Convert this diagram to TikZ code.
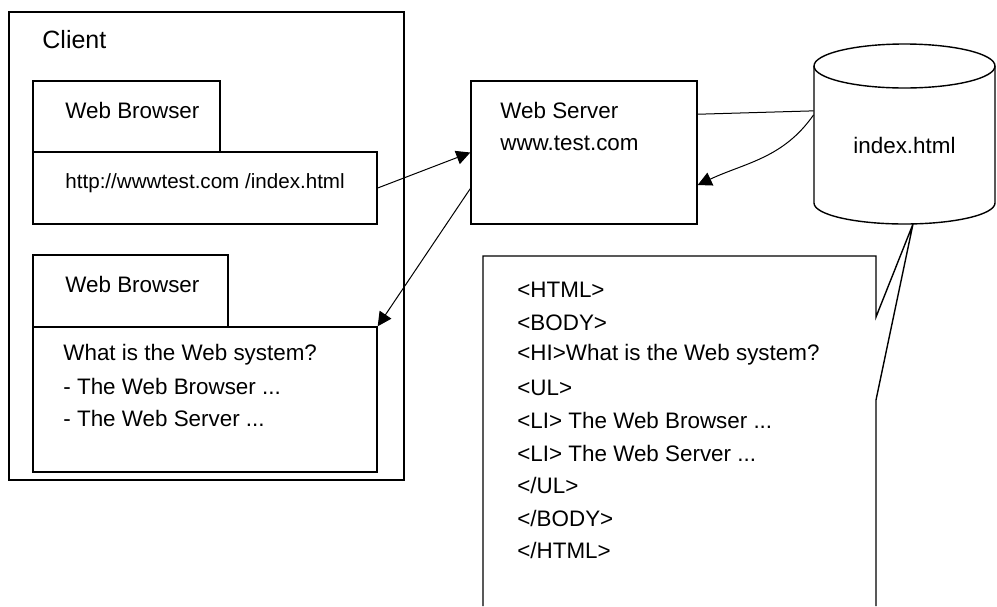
\documentclass[tikz,border=0pt]{standalone}
\usepackage{fontspec}
\setmainfont{Liberation Sans}
\usetikzlibrary{arrows.meta, calc}
\newcommand\pkte{...}

\begin{document}
\begin{tikzpicture}[x=0.5pt, y=-0.5pt,
		>={Triangle[length=7pt,width=7pt]},   %Pfeilspitzen
		box/.style={draw, line width=0.7pt, inner sep=0pt},
		txt/.style={anchor=west, inner sep=0pt},
		link/.style={line width=0.5pt},
		font=\fontsize{11.2}{13}\selectfont]
		\useasboundingbox (0,0) rectangle (997,606);
		%Client mit zwei Browsern
		\node[box, minimum width=197.5pt, minimum height=234pt] (client) at (206.5,246) {};
		\node[txt, font=\fontsize{12.5}{15}\selectfont] (clientlabel) at (42,40) {Client};
		\node[box, minimum width=93.5pt, minimum height=35.5pt] (tabone) at (126.5,116.5) {};
		\node[box, minimum width=172pt, minimum height=36pt] (bodyone) at (205,188) {};
		\node[txt] (browserone) at (65,110) {Web Browser};
		\node[txt, font=\fontsize{10.3}{12}\selectfont] (url) at (65,183) {http://wwwtest.com /index.html};
		\node[box, minimum width=97.5pt, minimum height=36pt] (tabtwo) at (130.5,291) {};
		\node[box, minimum width=172pt, minimum height=72.5pt] (bodytwo) at (205,399.5) {};
		\node[txt] (browsertwo) at (65,284) {Web Browser};
		\foreach \t [count=\i] in {What is the Web system?, - The Web Browser \pkte, - The Web Server \pkte}
			\node[txt] (page\i) at (63,355+31.5*\i-31.5) {\t};
		%Server
		\node[box, minimum width=113pt, minimum height=71.5pt] (server) at (584,152.5) {};
		\node[txt] (servername) at (500,110) {Web Server};
		\node[txt] (serverhost) at (500,143) {www.test.com};
		%Datenbank (Zylinder)
		\draw[line width=0.7pt] (814,66) -- (814,203) arc[start angle=180, end angle=0, x radius=90.5, y radius=21] -- (995,66);
		\draw[line width=0.7pt] (904.5,66) ellipse [x radius=90.5, y radius=22];
		\node[minimum width=90.5pt, minimum height=79pt, inner sep=0pt] (db) at (904.5,145) {};
		\node (dblabel) at (904.5,145) {index.html};
		%HTML-Quelltext mit Sprechblase
		\coordinate (tip) at (913,224);
		\draw[line width=0.7pt] (483,606) -- (483,256) -- (876,256) -- (876,317) -- (tip) -- (876,400) -- (876,606);
		\foreach \t [count=\i] in {<HTML>, <BODY>, <HI>What is the Web system?, <UL>, <LI> The Web Browser \pkte, <LI> The Web Server \pkte, </UL>, </BODY>, </HTML>}
			\node[txt] (html\i) at (517,290+32.6*\i-32.6) {\t};
		%Verbindungen
		\draw[link,->] (bodyone.east) -- (server.west);
		\draw[link,->] ($(server.west)!0.5!(server.south west)$) -- (bodytwo.north east);
		\draw[link] ($(server.north east)!0.47!(server.east)$) -- ($(db.north west)!0.57!(db.west)$);
		\draw[link,->] ($(db.north west)!0.62!(db.west)$) to[out=-125, in=25] ($(server.east)!0.45!(server.south east)$);
	\end{tikzpicture}
\end{document}
